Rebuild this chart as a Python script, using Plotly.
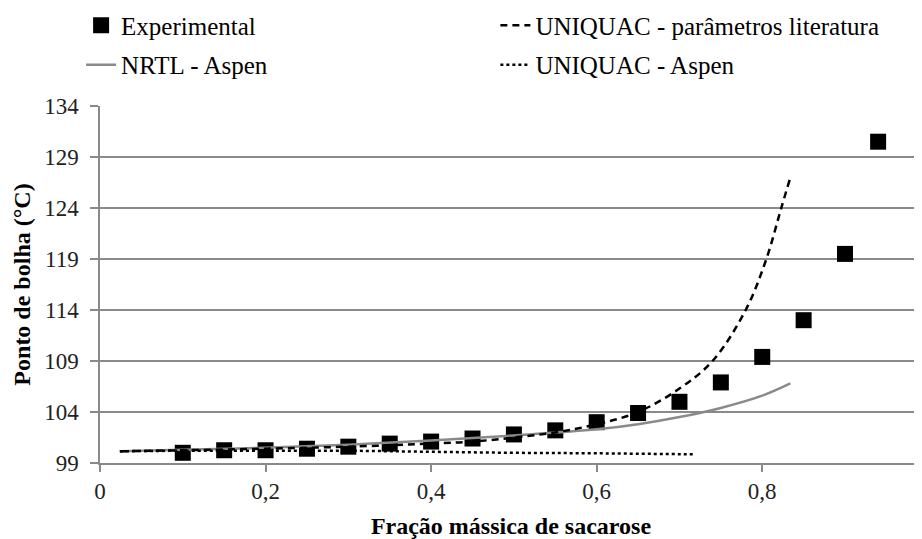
import plotly.graph_objects as go

# Experimental data
exp_x = [0.10, 0.15, 0.20, 0.25, 0.30, 0.35, 0.40, 0.45, 0.50, 0.55,
         0.60, 0.65, 0.70, 0.75, 0.80, 0.85, 0.90, 0.94]
exp_y = [100.0, 100.25, 100.25, 100.4, 100.6, 100.9, 101.1, 101.4, 101.8, 102.2,
         103.0, 103.9, 105.0, 106.9, 109.4, 113.0, 119.5, 130.5]

# NRTL - Aspen
nrtl_x = [0.024, 0.1, 0.2, 0.3, 0.4, 0.5, 0.6, 0.65, 0.7, 0.75, 0.8, 0.834]
nrtl_y = [100.15, 100.3, 100.5, 100.8, 101.2, 101.7, 102.3, 102.8, 103.5, 104.4, 105.6, 106.8]

# UNIQUAC - parametros literatura
uniq_lit_x = [0.024, 0.1, 0.2, 0.3, 0.4, 0.45, 0.5, 0.55, 0.6, 0.65, 0.7, 0.74, 0.78, 0.805, 0.823, 0.834]
uniq_lit_y = [100.15, 100.25, 100.4, 100.6, 100.9, 101.1, 101.5, 102.0, 102.8, 104.0, 106.3, 109.0, 114.0, 119.0, 124.0, 127.0]

# UNIQUAC - Aspen
uniq_asp_x = [0.024, 0.1, 0.2, 0.3, 0.4, 0.5, 0.6, 0.716]
uniq_asp_y = [100.15, 100.2, 100.2, 100.2, 100.1, 100.0, 99.95, 99.85]

y_ticks = [99, 104, 109, 114, 119, 124, 129, 134]
x_ticks = [0, 0.2, 0.4, 0.6, 0.8]

FONT = "'Liberation Serif', 'Times New Roman', serif"

fig = go.Figure()
fig.add_trace(go.Scatter(x=exp_x, y=exp_y, mode="markers", name="Experimental",
                         marker=dict(symbol="square", size=16, color="black"),
                         legend="legend", legendgroup="a"))
fig.add_trace(go.Scatter(x=nrtl_x, y=nrtl_y, mode="lines", name="NRTL - Aspen",
                         line=dict(color="#8a8a8a", width=2.5, shape="spline"),
                         legend="legend", legendgroup="b"))
fig.add_trace(go.Scatter(x=uniq_lit_x, y=uniq_lit_y, mode="lines",
                         name="UNIQUAC - parâmetros literatura",
                         line=dict(color="black", width=2.5, dash="7px,5px", shape="spline"),
                         legend="legend2", legendgroup="c"))
fig.add_trace(go.Scatter(x=uniq_asp_x, y=uniq_asp_y, mode="lines", name="UNIQUAC - Aspen",
                         line=dict(color="black", width=2.5, dash="dot", shape="spline"),
                         legend="legend2", legendgroup="d"))

legend_common = dict(font=dict(family=FONT, size=25, color="black"),
                     bgcolor="rgba(0,0,0,0)", tracegroupgap=4,
                     yanchor="top", xanchor="left")

fig.update_layout(
    width=922, height=539,
    margin=dict(l=92, r=8, t=98, b=84, autoexpand=False),
    paper_bgcolor="white", plot_bgcolor="white",
    separators=", ",
    font=dict(family=FONT, size=23, color="black"),
    legend=dict(x=-0.023, y=1.29, **legend_common),
    legend2=dict(x=0.481, y=1.29, **legend_common),
    xaxis=dict(range=[0, 0.993], tickvals=x_ticks, ticks="outside", ticklen=7,
               tickcolor="#8a8a8a", tickwidth=1.5, automargin=False,
               showline=True, linecolor="#8a8a8a", linewidth=1.5,
               showgrid=False, zeroline=False,
               tickfont=dict(family=FONT, size=23, color="#222"),
               title=dict(text="<b>Fração mássica de sacarose</b>",
                          font=dict(family=FONT, size=24, color="black"), standoff=14)),
    yaxis=dict(range=[99, 134], tickvals=y_ticks, ticks="outside", ticklen=8,
               tickcolor="#8a8a8a", tickwidth=1.5, automargin=False,
               ticklabelstandoff=7,
               showline=True, linecolor="#8a8a8a", linewidth=1.5,
               showgrid=True, gridcolor="#8a8a8a", gridwidth=1.5, zeroline=False,
               tickfont=dict(family=FONT, size=23, color="#222"),
               title=dict(text="<b>Ponto de bolha (°C)</b>",
                          font=dict(family=FONT, size=24, color="black"), standoff=7)),
)

fig.write_html("out.html")
